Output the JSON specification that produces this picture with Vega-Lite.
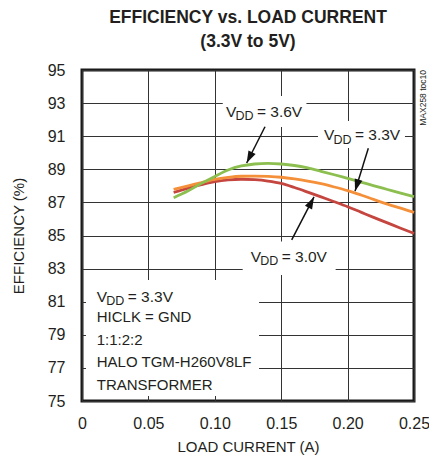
{
  "$schema": "https://vega.github.io/schema/vega-lite/v6.json",
  "autosize": "none",
  "width": 332,
  "height": 331,
  "padding": {"left": 82, "top": 70, "right": 15, "bottom": 63},
  "background": "white",
  "config": {
    "font": "Liberation Sans",
    "view": {"stroke": "#1a1a1a", "strokeWidth": 3},
    "axis": {"domain": false, "ticks": false, "tickSize": 0, "grid": true, "gridColor": "#333333", "gridWidth": 1, "gridOpacity": 1,
      "labelFont": "Liberation Sans", "labelFontSize": 16, "labelColor": "#231f20",
      "titleFont": "Liberation Sans", "titleFontSize": 15, "titleFontWeight": "normal", "titleColor": "#231f20"}
  },
  "title": {
    "text": ["EFFICIENCY vs. LOAD CURRENT", "(3.3V to 5V)"],
    "font": "Liberation Sans", "fontSize": 17.5, "fontWeight": "bold", "color": "#231f20",
    "lineHeight": 24, "anchor": "middle", "offset": 12
  },
  "datasets": {
    "curves": [
      {"s": "3.0V", "x": 0.069, "y": 87.6}, {"s": "3.0V", "x": 0.08, "y": 87.86}, {"s": "3.0V", "x": 0.09, "y": 88.07},
      {"s": "3.0V", "x": 0.10, "y": 88.25}, {"s": "3.0V", "x": 0.11, "y": 88.36}, {"s": "3.0V", "x": 0.12, "y": 88.4},
      {"s": "3.0V", "x": 0.13, "y": 88.37}, {"s": "3.0V", "x": 0.14, "y": 88.29}, {"s": "3.0V", "x": 0.15, "y": 88.15},
      {"s": "3.0V", "x": 0.16, "y": 87.9}, {"s": "3.0V", "x": 0.17, "y": 87.62}, {"s": "3.0V", "x": 0.18, "y": 87.33},
      {"s": "3.0V", "x": 0.19, "y": 87.04}, {"s": "3.0V", "x": 0.20, "y": 86.74}, {"s": "3.0V", "x": 0.21, "y": 86.41},
      {"s": "3.0V", "x": 0.22, "y": 86.08}, {"s": "3.0V", "x": 0.23, "y": 85.76}, {"s": "3.0V", "x": 0.24, "y": 85.44},
      {"s": "3.0V", "x": 0.25, "y": 85.13},
      {"s": "3.3V", "x": 0.069, "y": 87.79}, {"s": "3.3V", "x": 0.08, "y": 88.0}, {"s": "3.3V", "x": 0.09, "y": 88.2},
      {"s": "3.3V", "x": 0.10, "y": 88.39}, {"s": "3.3V", "x": 0.11, "y": 88.51}, {"s": "3.3V", "x": 0.12, "y": 88.58},
      {"s": "3.3V", "x": 0.13, "y": 88.59}, {"s": "3.3V", "x": 0.14, "y": 88.57}, {"s": "3.3V", "x": 0.15, "y": 88.52},
      {"s": "3.3V", "x": 0.16, "y": 88.42}, {"s": "3.3V", "x": 0.17, "y": 88.29}, {"s": "3.3V", "x": 0.18, "y": 88.13},
      {"s": "3.3V", "x": 0.19, "y": 87.93}, {"s": "3.3V", "x": 0.20, "y": 87.71}, {"s": "3.3V", "x": 0.21, "y": 87.45},
      {"s": "3.3V", "x": 0.22, "y": 87.17}, {"s": "3.3V", "x": 0.23, "y": 86.9}, {"s": "3.3V", "x": 0.24, "y": 86.65},
      {"s": "3.3V", "x": 0.25, "y": 86.4},
      {"s": "3.6V", "x": 0.069, "y": 87.28}, {"s": "3.6V", "x": 0.08, "y": 87.7}, {"s": "3.6V", "x": 0.09, "y": 88.15},
      {"s": "3.6V", "x": 0.10, "y": 88.57}, {"s": "3.6V", "x": 0.11, "y": 88.96}, {"s": "3.6V", "x": 0.12, "y": 89.2},
      {"s": "3.6V", "x": 0.13, "y": 89.32}, {"s": "3.6V", "x": 0.14, "y": 89.36}, {"s": "3.6V", "x": 0.15, "y": 89.32},
      {"s": "3.6V", "x": 0.16, "y": 89.23}, {"s": "3.6V", "x": 0.17, "y": 89.08}, {"s": "3.6V", "x": 0.18, "y": 88.88},
      {"s": "3.6V", "x": 0.19, "y": 88.67}, {"s": "3.6V", "x": 0.20, "y": 88.45}, {"s": "3.6V", "x": 0.21, "y": 88.23},
      {"s": "3.6V", "x": 0.22, "y": 88.0}, {"s": "3.6V", "x": 0.23, "y": 87.78}, {"s": "3.6V", "x": 0.24, "y": 87.56},
      {"s": "3.6V", "x": 0.25, "y": 87.35}
    ],
    "boxes": [
      {"x": 0.106, "x2": 0.169, "y": 93.43, "y2": 91.56},
      {"x": 0.1777, "x2": 0.2432, "y": 91.92, "y2": 90.29},
      {"x": 0.121, "x2": 0.191, "y": 84.63, "y2": 82.61},
      {"x": 0.003, "x2": 0.1333, "y": 82.31, "y2": 75.3}
    ],
    "arrows": [
      {"a": "3.6V", "x": 0.1378, "y": 91.57, "x2": 0.124, "y2": 89.38},
      {"a": "3.3V", "x": 0.2156, "y": 90.27, "x2": 0.2056, "y2": 87.68},
      {"a": "3.0V", "x": 0.1579, "y": 84.73, "x2": 0.1747, "y2": 87.33}
    ],
    "vdd": [
      {"x": 0.1084, "y": 92.18, "v": "V", "sub": "DD", "rest": "= 3.6V"},
      {"x": 0.1822, "y": 90.77, "v": "V", "sub": "DD", "rest": "= 3.3V"},
      {"x": 0.127, "y": 83.42, "v": "V", "sub": "DD", "rest": "= 3.0V"},
      {"x": 0.0111, "y": 81.0, "v": "V", "sub": "DD", "rest": "= 3.3V"}
    ],
    "notes": [
      {"x": 0.0111, "y": 79.77, "t": "HICLK = GND"},
      {"x": 0.0111, "y": 78.38, "t": "1:1:2:2"},
      {"x": 0.0111, "y": 77.05, "t": "HALO TGM-H260V8LF"},
      {"x": 0.0111, "y": 75.66, "t": "TRANSFORMER"}
    ],
    "side": [{"x": 0.25, "y": 95, "t": "MAX258 toc10"}]
  },
  "encoding": {
    "x": {"field": "x", "type": "quantitative",
      "scale": {"domain": [0, 0.25], "nice": false, "zero": false},
      "axis": {"title": "LOAD CURRENT (A)", "values": [0, 0.05, 0.1, 0.15, 0.2, 0.25],
        "labelExpr": "datum.value === 0 ? '0' : format(datum.value, '.2f')",
        "labelPadding": 14, "titlePadding": 8, "labelFlush": false}},
    "y": {"field": "y", "type": "quantitative",
      "scale": {"domain": [75, 95], "nice": false, "zero": false},
      "axis": {"title": "EFFICIENCY (%)", "values": [75, 77, 79, 81, 83, 85, 87, 89, 91, 93, 95],
        "format": "d", "labelPadding": 17, "titlePadding": 21, "labelFlush": false}}
  },
  "layer": [
    {"data": {"name": "boxes"},
     "mark": {"type": "rect", "fill": "white", "stroke": null},
     "encoding": {"x2": {"field": "x2"}, "y2": {"field": "y2"}}},
    {"data": {"name": "curves"},
     "mark": {"type": "line", "strokeWidth": 2.8, "interpolate": "monotone"},
     "encoding": {"color": {"field": "s", "type": "nominal",
        "scale": {"domain": ["3.0V", "3.3V", "3.6V"], "range": ["#c5453f", "#f5903a", "#8cbf4f"]}, "legend": null}}},
    {"data": {"name": "arrows"},
     "mark": {"type": "rule", "color": "#111111", "strokeWidth": 1.5},
     "encoding": {"x2": {"field": "x2"}, "y2": {"field": "y2"}}},
    {"data": {"name": "arrows"},
     "transform": [{"filter": "datum.a === '3.6V'"}],
     "mark": {"type": "point", "shape": "M0,0L-0.8,2.4L0.8,2.4Z", "size": 100, "filled": true, "color": "#111111", "opacity": 1, "angle": 206.6},
     "encoding": {"x": {"field": "x2", "type": "quantitative"}, "y": {"field": "y2", "type": "quantitative"}}},
    {"data": {"name": "arrows"},
     "transform": [{"filter": "datum.a === '3.3V'"}],
     "mark": {"type": "point", "shape": "M0,0L-0.8,2.4L0.8,2.4Z", "size": 100, "filled": true, "color": "#111111", "opacity": 1, "angle": 197},
     "encoding": {"x": {"field": "x2", "type": "quantitative"}, "y": {"field": "y2", "type": "quantitative"}}},
    {"data": {"name": "arrows"},
     "transform": [{"filter": "datum.a === '3.0V'"}],
     "mark": {"type": "point", "shape": "M0,0L-0.8,2.4L0.8,2.4Z", "size": 100, "filled": true, "color": "#111111", "opacity": 1, "angle": 27.3},
     "encoding": {"x": {"field": "x2", "type": "quantitative"}, "y": {"field": "y2", "type": "quantitative"}}},
    {"data": {"name": "vdd"},
     "mark": {"type": "text", "align": "left", "baseline": "alphabetic", "fontSize": 15.5, "color": "#231f20"},
     "encoding": {"text": {"field": "v"}}},
    {"data": {"name": "vdd"},
     "mark": {"type": "text", "align": "left", "baseline": "alphabetic", "fontSize": 12.5, "dx": 9.5, "dy": 3.5, "color": "#231f20"},
     "encoding": {"text": {"field": "sub"}}},
    {"data": {"name": "vdd"},
     "mark": {"type": "text", "align": "left", "baseline": "alphabetic", "fontSize": 15.5, "dx": 31, "color": "#231f20"},
     "encoding": {"text": {"field": "rest"}}},
    {"data": {"name": "notes"},
     "mark": {"type": "text", "align": "left", "baseline": "alphabetic", "fontSize": 15, "color": "#231f20"},
     "encoding": {"text": {"field": "t"}}},
    {"data": {"name": "side"},
     "mark": {"type": "text", "align": "right", "baseline": "middle", "angle": 270, "fontSize": 8.5, "dy": 9, "color": "#231f20"},
     "encoding": {"text": {"field": "t"}}}
  ]
}
